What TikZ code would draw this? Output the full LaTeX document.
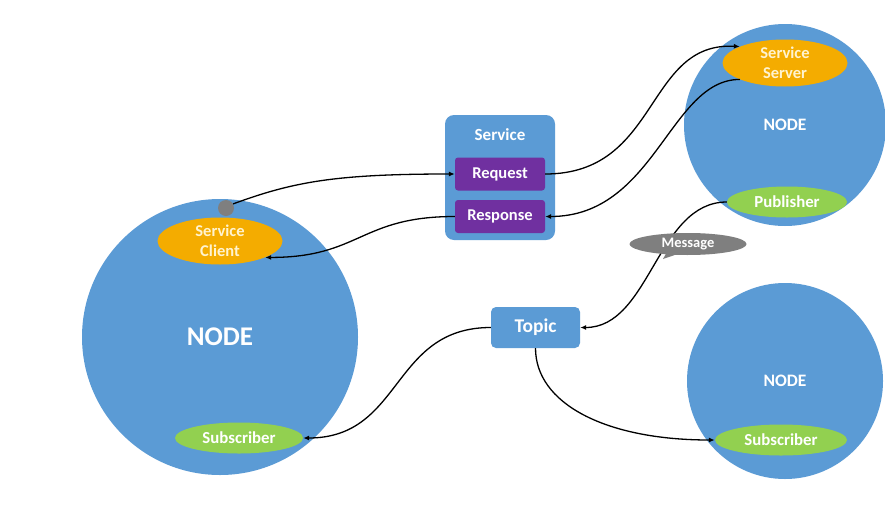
\documentclass[tikz,border=0pt]{standalone}
\usepackage{fontspec}
\setmainfont{Carlito}
\usetikzlibrary{shapes.geometric,shapes.callouts,arrows.meta}

\definecolor{nodeblue}{HTML}{5B9BD5}
\definecolor{svcorange}{HTML}{F4AC00}
\definecolor{svctext}{HTML}{FFF3CF}
\definecolor{pubgreen}{HTML}{92D050}
\definecolor{msgpurple}{HTML}{7030A0}
\definecolor{msggray}{HTML}{7F7F7F}

\tikzset{
  rosnode/.style={circle, fill=nodeblue, inner sep=0pt, text=white, font=\bfseries},
  svcell/.style={ellipse, fill=svcorange, inner sep=0pt, minimum width=125pt,
    minimum height=47pt, text=svctext, align=center,
    font=\bfseries\fontsize{16.5}{20}\selectfont},
  topicell/.style={ellipse, fill=pubgreen, inner sep=0pt, minimum height=31pt,
    text=white, font=\bfseries\fontsize{16.8}{20}\selectfont},
  bluebox/.style={rectangle, rounded corners=9pt, fill=nodeblue, inner sep=0pt},
  purplebox/.style={rectangle, rounded corners=3pt, fill=msgpurple, inner sep=0pt,
    minimum width=90pt, minimum height=33pt, text=white,
    font=\bfseries\fontsize{16.5}{20}\selectfont},
  boxlabel/.style={text=white, font=\bfseries\fontsize{17}{20}\selectfont},
  link/.style={draw=black, line width=1.3pt, -{Latex[length=6pt,width=5pt]}},
}

\begin{document}
\begin{tikzpicture}[x=1pt, y=-1pt]
  \fill[white] (0,0) rectangle (885,506);
  \useasboundingbox (0,0) rectangle (885,506);

  % ROS nodes
  \node[rosnode, minimum size=276pt, font=\bfseries\fontsize{27}{32}\selectfont]
    (left) at (220,337) {NODE};
  \node[rosnode, minimum size=202pt, font=\bfseries\fontsize{17.5}{20}\selectfont]
    (topright) at (785,125) {NODE};
  \node[rosnode, minimum size=196pt, font=\bfseries\fontsize{17.5}{20}\selectfont]
    (botright) at (785,381) {NODE};

  % parts inside the nodes
  \node[svcell] (client) at (220,241) {Service\\Client};
  \node[circle, fill=msggray, minimum size=16pt, inner sep=0pt] (dot) at (226,208) {};
  \node[topicell, minimum width=128pt] (subL) at (239,438) {Subscriber};
  \node[svcell] (server) at (785,63) {Service\\Server};
  \node[topicell, minimum width=120pt] (pub) at (787,202) {Publisher};
  \node[topicell, minimum width=132pt] (subR) at (781,440) {Subscriber};

  % service box
  \node[bluebox, minimum width=110pt, minimum height=125pt] (svcbox) at (500,177.5) {};
  \node[boxlabel] (svclabel) at (500,135) {Service};
  \node[purplebox] (req) at (500,174) {Request};
  \node[purplebox] (resp) at (500,216.5) {Response};

  % topic box
  \node[bluebox, rounded corners=5pt, minimum width=89pt, minimum height=41pt,
    text=white, font=\bfseries\fontsize{19.5}{22}\selectfont] (topic) at (535.5,327.5) {Topic};

  % connectors
  \draw[link] (dot.30) .. controls +(60,-22) and +(-120,0) .. (req.west);
  \draw[link] (resp.west) .. controls +(-95,0) and +(95,0) .. (client.-20);
  \draw[link] (req.east) .. controls +(115,0) and +(-95,-5) .. (server.160);
  \draw[link] (server.200) .. controls +(-70,0) and +(110,0) .. (resp.east);
  \draw[link] (pub.west) .. controls +(-70,0) and +(70,0) .. (topic.east);
  \draw[link] (topic.west) .. controls +(-100,0) and +(100,0) .. (subL.east);
  \draw[link] (topic.south) .. controls +(0,55) and +(-110,0) .. (subR.west);

  % message tag, over the publisher link
  \node[ellipse callout, fill=msggray, minimum width=117pt, minimum height=22pt,
    inner sep=0pt, callout absolute pointer={(663,259)}, callout pointer arc=10,
    text=white, font=\bfseries\fontsize{14.5}{17}\selectfont]
    (msg) at (688,244) {Message};
\end{tikzpicture}
\end{document}
